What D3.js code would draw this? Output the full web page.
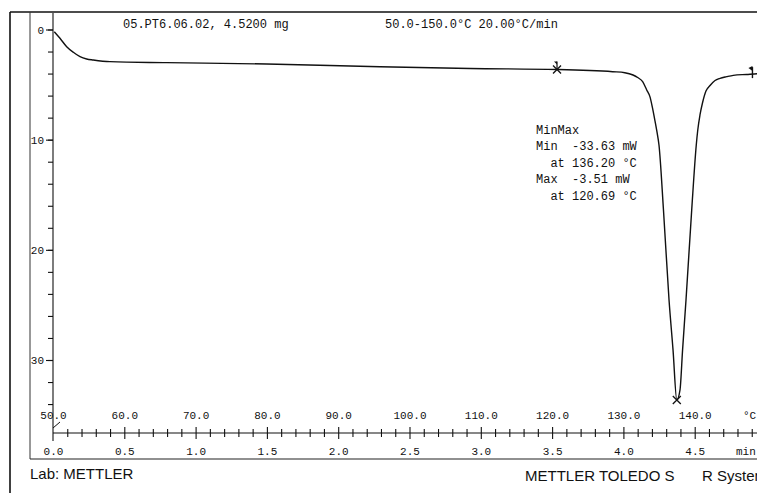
<!DOCTYPE html>
<html><head><meta charset="utf-8">
<script src="https://cdn.jsdelivr.net/npm/d3@7"></script>
<style>body{margin:0;background:#fff;overflow:hidden}svg{display:block}</style>
</head><body>
<script>
// ---- data ----
const tempC = [50.18, 50.98, 51.92, 52.85, 53.79, 54.72, 55.65, 57.99, 65.95, 79.97, 95.86, 108.5, 120.7, 128.5, 130.2, 131.35, 132.0, 132.7, 133.27, 133.73, 134.08, 134.43, 134.71, 134.99, 135.62, 136.40, 136.96, 137.49, 137.94, 138.30, 138.78, 139.58, 140.22, 140.43, 140.74, 141.09, 141.58, 142.15, 142.85, 143.55, 144.49, 145.41, 147.29, 148.74, 150.0];
const heatFlowMW = [-0.20, -0.80, -1.56, -2.07, -2.47, -2.68, -2.77, -2.92, -3.01, -3.13, -3.38, -3.54, -3.63, -3.83, -3.92, -4.13, -4.36, -4.74, -5.49, -6.12, -7.12, -8.30, -9.30, -10.48, -16.38, -24.55, -29.08, -33.63, -32.71, -29.08, -24.55, -16.38, -10.48, -9.12, -7.76, -6.67, -5.58, -5.08, -4.63, -4.43, -4.28, -4.16, -4.08, -4.02, -4.0];

const yMajorTicks = [0, -10, -20, -30];
const yMinorTicks = [0, -2, -4, -6, -8, -10, -12, -14, -16, -18, -20, -22, -24, -26, -28, -30, -32, -34];
const timeMajorTicks = [0, 0.5, 1.0, 1.5, 2.0, 2.5, 3.0, 3.5, 4.0, 4.5];
const timeMinorTicks = [0.1, 0.2, 0.3, 0.4, 0.6, 0.7, 0.8, 0.9, 1.1, 1.2, 1.3, 1.4, 1.6, 1.7, 1.8, 1.9, 2.1, 2.2, 2.3, 2.4, 2.6, 2.7, 2.8, 2.9, 3.1, 3.2, 3.3, 3.4, 3.6, 3.7, 3.8, 3.9, 4.1, 4.2, 4.3, 4.4, 4.6, 4.7, 4.8, 4.9];
const tempTicks = [50, 60, 70, 80, 90, 100, 110, 120, 130, 140];

const headerLeft = "05.PT6.06.02, 4.5200 mg";
const headerRight = "50.0-150.0°C 20.00°C/min";
const annotationLines = ["MinMax", "Min  -33.63 mW", "  at 136.20 °C", "Max  -3.51 mW", "  at 120.69 °C"];
const markerMax = { t: 120.69, v: -3.63 };
const markerMin = { t: 137.49, v: -33.63 };
const endFlag = { t: 148.1, v: -4.05 };

// ---- drawing ----
const W = 757, H = 493;
const svg = d3.select("body").append("svg").attr("width", W).attr("height", H);
const ink = "#111";
const mono = "'Liberation Mono', 'DejaVu Sans Mono', monospace";
const sans = "'Liberation Sans', Arial, sans-serif";

const x0 = 53, yAxisLine = 433;
const x = d3.scaleLinear().domain([50, 150]).range([x0, x0 + 713]);
const tScale = d3.scaleLinear().domain([0, 5]).range([x0, x0 + 713]);
const y = d3.scaleLinear().domain([0, -30]).range([29.5, 360]);

// frames
svg.append("line").attr("x1", 10).attr("x2", 10).attr("y1", 12).attr("y2", H).attr("stroke", ink).attr("stroke-width", 1.6);
svg.append("line").attr("x1", 10).attr("x2", W).attr("y1", 12).attr("y2", 12).attr("stroke", ink).attr("stroke-width", 1.6);
svg.append("line").attr("x1", 30).attr("x2", 30).attr("y1", 12).attr("y2", 459).attr("stroke", "#333").attr("stroke-width", 1);
svg.append("line").attr("x1", 30).attr("x2", W).attr("y1", 459).attr("y2", 459).attr("stroke", "#222").attr("stroke-width", 1.2);

// y axis
svg.append("line").attr("x1", x0).attr("x2", x0).attr("y1", 13).attr("y2", 441).attr("stroke", ink).attr("stroke-width", 1.1);
const yMinor = svg.append("g").attr("transform", `translate(${x0},0)`)
  .call(d3.axisLeft(y).tickValues(yMinorTicks).tickSize(5).tickFormat(""));
yMinor.select(".domain").remove();
yMinor.selectAll("line").attr("stroke", ink).attr("stroke-width", 1.1);
const yMajor = svg.append("g").attr("transform", `translate(${x0},0)`)
  .call(d3.axisLeft(y).tickValues(yMajorTicks).tickSize(7).tickPadding(2).tickFormat(d => String(Math.abs(d))));
yMajor.select(".domain").remove();
yMajor.selectAll("line").attr("stroke", ink).attr("stroke-width", 1.1);
yMajor.selectAll("text").attr("font-family", mono).attr("font-size", 11).attr("fill", ink);

// x axis line
svg.append("line").attr("x1", x0).attr("x2", W).attr("y1", yAxisLine).attr("y2", yAxisLine).attr("stroke", ink).attr("stroke-width", 1.1);
svg.append("line").attr("x1", x0).attr("x2", x0 + 7).attr("y1", yAxisLine - 5).attr("y2", yAxisLine - 11).attr("stroke", ink).attr("stroke-width", 1);

const tMinor = svg.append("g").attr("transform", `translate(0,${yAxisLine})`)
  .call(d3.axisBottom(tScale).tickValues(timeMinorTicks).tickSize(4).tickFormat(""));
tMinor.select(".domain").remove();
tMinor.selectAll("line").attr("y1", -4).attr("y2", 4).attr("stroke", ink).attr("stroke-width", 1.1);
const tMajor = svg.append("g").attr("transform", `translate(0,${yAxisLine})`)
  .call(d3.axisBottom(tScale).tickValues(timeMajorTicks.filter(d => d > 0)).tickSize(6).tickFormat(""));
tMajor.select(".domain").remove();
tMajor.selectAll("line").attr("y1", -6).attr("y2", 6).attr("stroke", ink).attr("stroke-width", 1.1);

const tLabels = svg.append("g").attr("transform", "translate(0,455)")
  .call(d3.axisBottom(tScale).tickValues(timeMajorTicks).tickSize(0).tickFormat(d3.format(".1f")));
tLabels.select(".domain").remove();
tLabels.selectAll("text").attr("y", 0).attr("dy", 0).attr("font-family", mono).attr("font-size", 11).attr("fill", ink);

const tempLabels = svg.append("g").attr("transform", "translate(0,419)")
  .call(d3.axisTop(x).tickValues(tempTicks).tickSize(0).tickPadding(0).tickFormat(d3.format(".1f")));
tempLabels.select(".domain").remove();
tempLabels.selectAll("text").attr("y", 0).attr("dy", 0).attr("font-family", mono).attr("font-size", 11).attr("fill", ink);

svg.append("text").attr("x", 736).attr("y", 455).attr("font-family", mono).attr("font-size", 11).attr("fill", ink).text("min");
svg.append("text").attr("x", 743).attr("y", 419).attr("font-family", mono).attr("font-size", 11).attr("fill", ink).text("°C");

// curve
const pts = tempC.map((t, i) => [t, heatFlowMW[i]]);
svg.append("path").datum(pts)
  .attr("d", d3.line().x(d => x(d[0])).y(d => y(d[1])).curve(d3.curveMonotoneX))
  .attr("fill", "none").attr("stroke", ink).attr("stroke-width", 1.4);

// markers
function cross(p) {
  const cx = x(p.t), cy = y(p.v), s = 4;
  svg.append("path").attr("d", `M${cx - s},${cy - s}L${cx + s},${cy + s}M${cx - s},${cy + s}L${cx + s},${cy - s}`)
    .attr("stroke", ink).attr("stroke-width", 1.3).attr("fill", "none");
}
cross(markerMax);
cross(markerMin);
{
  const cx = x(markerMax.t), cy = y(markerMax.v);
  svg.append("path").attr("d", `M${cx},${cy}L${cx},${cy - 8}`).attr("stroke", ink).attr("stroke-width", 1.2);
  svg.append("path").attr("d", `M${cx - 3},${cy - 8}L${cx},${cy - 8}L${cx},${cy - 5}Z`).attr("fill", ink);
  const ex = x(endFlag.t), ey = y(endFlag.v);
  svg.append("path").attr("d", `M${ex},${ey - 7}L${ex},${ey + 4}`).attr("stroke", ink).attr("stroke-width", 1.4);
  svg.append("path").attr("d", `M${ex - 4},${ey - 6}L${ex},${ey - 8}L${ex},${ey - 3}Z`).attr("fill", ink);
}

// texts
svg.append("text").attr("x", 123).attr("y", 28).attr("font-family", mono).attr("font-size", 12).attr("fill", ink).text(headerLeft);
svg.append("text").attr("x", 385).attr("y", 28).attr("font-family", mono).attr("font-size", 12).attr("fill", ink).text(headerRight);

const ann = svg.append("g").attr("font-family", mono).attr("font-size", 12).attr("fill", ink);
ann.selectAll("text").data(annotationLines).join("text")
  .attr("x", 536).attr("y", (d, i) => 133.5 + i * 16.5)
  .attr("xml:space", "preserve").style("white-space", "pre").text(d => d);

svg.append("text").attr("x", 30).attr("y", 479).attr("font-family", sans).attr("font-size", 15).attr("fill", ink).text("Lab: METTLER");
svg.append("text").attr("x", 525).attr("y", 481).attr("font-family", sans).attr("font-size", 15).attr("fill", ink).text("METTLER TOLEDO S");
svg.append("text").attr("x", 702).attr("y", 481).attr("font-family", sans).attr("font-size", 15).attr("fill", ink).text("R");
svg.append("text").attr("x", 717).attr("y", 481).attr("font-family", sans).attr("font-size", 15).attr("fill", ink).text("System");
</script>
</body></html>
